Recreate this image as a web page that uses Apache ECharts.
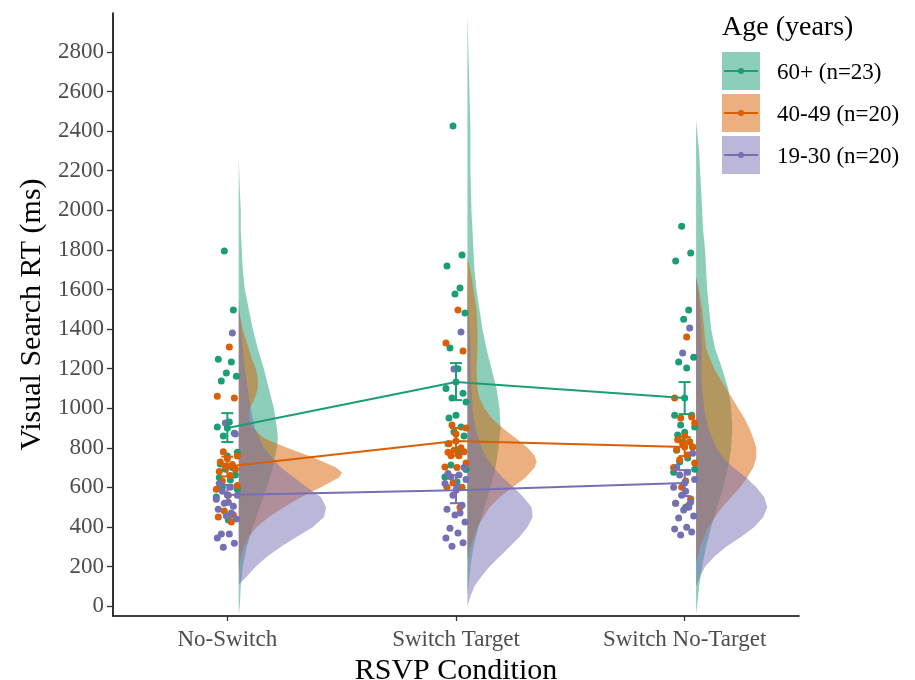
<!DOCTYPE html>
<html>
<head>
<meta charset="utf-8">
<script src="https://cdn.jsdelivr.net/npm/echarts@6/dist/echarts.min.js"></script>
<style>
html, body { margin: 0; padding: 0; background: #fff; }
#container { width: 915px; height: 680px; }
</style>
</head>
<body>
<div id="container"></div>
<script>
const conditions = ['No-Switch', 'Switch Target', 'Switch No-Target'];
const groups = ['60+ (n=23)', '40-49 (n=20)', '19-30 (n=20)'];
const colors = ['#1b9e77', '#d95f02', '#7570b3'];
const yTicks = [0, 200, 400, 600, 800, 1000, 1200, 1400, 1600, 1800, 2000, 2200, 2400, 2600, 2800];

// mean RT and +/- SE per condition
const mean60 = [900, 1132, 1051];
const lo60 = [829, 1041, 970];
const hi60 = [975, 1228, 1132];
const mean40 = [706, 834, 804];
const lo40 = [655, 760, 758];
const hi40 = [755, 900, 854];
const mean19 = [561, 586, 622];
const lo19 = [515, 520, 556];
const hi19 = [612, 662, 687];

// participant RTs (No-Switch, Switch Target, Switch No-Target)
const pts60 = [
  [1794, 1496, 1248, 1233, 1178, 1162, 1137, 930, 905, 874, 859, 778, 758, 718, 700, 692, 662, 650, 637, 601, 591, 551, 435],
  [2426, 1774, 1718, 1607, 1577, 1481, 1304, 1200, 1100, 1076, 1051, 1031, 965, 950, 905, 880, 859, 820, 790, 713, 690, 652, 627],
  [1920, 1784, 1744, 1496, 1450, 1258, 1233, 1203, 965, 965, 915, 905, 879, 864, 830, 829, 804, 788, 748, 728, 692, 677, 500]
];
const pts40 = [
  [1309, 1061, 1051, 780, 758, 745, 728, 715, 708, 692, 680, 660, 632, 610, 590, 560, 480, 460, 450, 425],
  [1496, 1329, 1289, 915, 900, 870, 820, 800, 788, 780, 778, 760, 760, 723, 703, 700, 622, 601, 600, 500],
  [1360, 1051, 955, 950, 925, 860, 840, 829, 820, 804, 790, 763, 740, 723, 700, 632, 601, 541, 520, 510]
];
const pts19 = [
  [1380, 925, 870, 620, 600, 580, 560, 540, 525, 520, 505, 490, 470, 455, 440, 364, 364, 344, 318, 298],
  [1385, 1198, 700, 670, 662, 652, 640, 620, 600, 560, 510, 490, 470, 460, 425, 394, 369, 344, 320, 303],
  [1405, 1279, 773, 700, 677, 662, 640, 600, 580, 560, 526, 520, 500, 485, 455, 445, 399, 389, 374, 359]
];

// half-violin outlines: [RT, relative density]
const dens60 = [
  [[-45, 0], [0, 1], [100, 2], [200, 4], [300, 8], [400, 14], [500, 21], [600, 28], [700, 34], [800, 38], [850, 39], [900, 38], [1000, 35], [1100, 30], [1200, 25], [1300, 19], [1400, 14], [1500, 10], [1600, 6], [1700, 4], [1800, 3], [1900, 2], [2000, 2], [2100, 1], [2270, 0]],
  [[60, 0], [100, 1], [200, 3], [300, 6], [400, 11], [500, 17], [600, 23], [700, 28], [800, 31], [900, 33], [1000, 32], [1100, 29], [1200, 24], [1300, 19], [1400, 15], [1500, 12], [1600, 9], [1700, 7], [1800, 6], [1900, 5], [2000, 4], [2200, 3], [2400, 3], [2600, 2], [2800, 1], [2990, 0]],
  [[-40, 0], [0, 1], [100, 3], [200, 6], [300, 10], [400, 15], [500, 21], [600, 27], [700, 32], [800, 35], [900, 36], [1000, 35], [1100, 32], [1200, 26], [1300, 19], [1400, 15], [1500, 13], [1600, 11], [1700, 10], [1800, 9], [1900, 7], [2000, 6], [2100, 5], [2200, 4], [2300, 3], [2400, 1], [2456, 0]]
];
const dens40 = [
  [[175, 0], [250, 2], [300, 5], [350, 10], [400, 18], [450, 30], [500, 45], [550, 62], [600, 82], [650, 100], [675, 103], [700, 97], [750, 75], [800, 48], [850, 25], [900, 14], [950, 10], [1000, 11], [1050, 16], [1100, 19], [1150, 19], [1200, 17], [1250, 13], [1300, 10], [1350, 7], [1400, 4], [1450, 2], [1500, 0]],
  [[236, 0], [300, 3], [400, 10], [500, 22], [550, 32], [600, 45], [650, 58], [700, 67], [730, 69], [760, 67], [800, 60], [850, 48], [900, 35], [950, 24], [1000, 17], [1050, 12], [1100, 10], [1200, 9], [1300, 10], [1400, 10], [1500, 9], [1600, 6], [1700, 3], [1760, 0]],
  [[217, 0], [300, 4], [400, 12], [500, 26], [550, 35], [600, 44], [650, 51], [700, 57], [750, 60], [800, 60], [850, 57], [900, 53], [950, 48], [1000, 42], [1050, 36], [1100, 30], [1200, 18], [1300, 10], [1400, 8], [1500, 6], [1600, 3], [1660, 0]]
];
const dens19 = [
  [[110, 0], [150, 8], [200, 17], [250, 28], [300, 42], [350, 58], [400, 74], [450, 85], [500, 87], [550, 82], [600, 68], [650, 55], [700, 42], [800, 25], [900, 16], [1000, 12], [1100, 9], [1200, 6], [1300, 4], [1400, 2], [1560, 0]],
  [[0, 0], [50, 3], [100, 7], [150, 14], [200, 22], [250, 32], [300, 42], [350, 52], [400, 60], [450, 65], [500, 64], [550, 56], [600, 46], [650, 35], [700, 26], [750, 19], [800, 14], [900, 8], [1000, 5], [1100, 4], [1200, 3], [1300, 3], [1400, 2], [1500, 1], [1690, 0]],
  [[100, 0], [150, 4], [200, 9], [250, 18], [300, 30], [350, 45], [400, 58], [450, 67], [500, 71], [550, 68], [600, 60], [650, 50], [700, 37], [750, 27], [800, 20], [900, 12], [1000, 8], [1100, 6], [1200, 5], [1300, 6], [1400, 5], [1500, 4], [1600, 2], [1663, 0]]
];

const means = [mean60, mean40, mean19];
const lows = [lo60, lo40, lo19];
const highs = [hi60, hi40, hi19];
const points = [pts60, pts40, pts19];
const violins = [dens60, dens40, dens19];

const FONT = 'Liberation Serif';
const OFF = 0.05;        // violin baseline right of the tick
const DENS = 1 / 228;    // density unit -> x units
const JIT = [-3, 6, -9, 4, -1, 9, -6, 2, -10, 7, -4, 10, 0, -7, 5, -2, 8, -8, 3, -5, 10, -11, 1].map(v => v / 228);

function fade(hex, a) {
  const n = parseInt(hex.slice(1), 16);
  return `rgba(${n >> 16},${(n >> 8) & 255},${n & 255},${a})`;
}

const chart = echarts.init(document.getElementById('container'));
const series = [];

groups.forEach((g, k) => {
  series.push({
    type: 'custom', name: g, z: 1, silent: true,
    data: conditions.map((c, i) => [i, 0]),
    renderItem: (params, api) => {
      const i = params.dataIndex;
      const line = violins[k][i];
      const pts = line.map(([v, w]) => api.coord([i + OFF + w * DENS, v]));
      pts.push(api.coord([i + OFF, line[line.length - 1][0]]));
      pts.push(api.coord([i + OFF, line[0][0]]));
      return { type: 'polygon', shape: { points: pts }, style: { fill: fade(colors[k], 0.5) } };
    }
  });
});

groups.forEach((g, k) => {
  const data = [];
  points[k].forEach((arr, i) => arr.forEach((v, j) => data.push([i + JIT[(j + k * 7) % JIT.length], v])));
  series.push({
    type: 'scatter', name: g, z: 2, data: data,
    symbolSize: 7, itemStyle: { color: colors[k], opacity: 1 }
  });
});

groups.forEach((g, k) => {
  series.push({
    type: 'custom', name: g, z: 3,
    data: conditions.map((c, i) => [i, lows[k][i], highs[k][i]]),
    encode: { x: 0, y: [1, 2] },
    renderItem: (params, api) => {
      const a = api.coord([api.value(0), api.value(1)]);
      const b = api.coord([api.value(0), api.value(2)]);
      const st = { stroke: colors[k], lineWidth: 2 };
      return {
        type: 'group', children: [
          { type: 'line', shape: { x1: a[0], y1: a[1], x2: b[0], y2: b[1] }, style: st },
          { type: 'line', shape: { x1: a[0] - 6, y1: a[1], x2: a[0] + 6, y2: a[1] }, style: st },
          { type: 'line', shape: { x1: b[0] - 6, y1: b[1], x2: b[0] + 6, y2: b[1] }, style: st }
        ]
      };
    }
  });
  series.push({
    type: 'line', name: g, z: 4,
    data: means[k].map((m, i) => [i, m]),
    symbol: 'circle', symbolSize: 7,
    itemStyle: { color: colors[k] },
    lineStyle: { color: colors[k], width: 2 }
  });
});

const legend = [{
  type: 'text', left: 722, top: 14,
  style: { text: 'Age (years)', font: `28px "${FONT}"`, fill: '#000' }
}];
groups.forEach((g, k) => {
  const y = 52 + 42 * k;
  legend.push(
    { type: 'rect', shape: { x: 722, y: y, width: 38, height: 38 }, style: { fill: fade(colors[k], 0.5) } },
    { type: 'line', shape: { x1: 724, y1: y + 19, x2: 758, y2: y + 19 }, style: { stroke: colors[k], lineWidth: 2 } },
    { type: 'circle', shape: { cx: 741, cy: y + 19, r: 3 }, style: { fill: colors[k] } },
    { type: 'text', x: 777, y: y + 21, style: { text: g, font: `23px "${FONT}"`, fill: '#000', verticalAlign: 'middle' } }
  );
});

const option = {
  backgroundColor: '#fff',
  animation: false,
  grid: { left: 113, right: 116, top: 13, bottom: 64, outerBoundsMode: 'none' },
  xAxis: {
    type: 'value', min: -0.5, max: 2.5,
    name: 'RSVP Condition', nameLocation: 'middle', nameGap: 31,
    nameTextStyle: { fontFamily: FONT, fontSize: 30, color: '#000' },
    axisLine: { onZero: false, lineStyle: { color: '#000', width: 1.6 } },
    axisTick: { customValues: [0, 1, 2], length: 5, lineStyle: { color: '#333', width: 1.3 } },
    axisLabel: {
      customValues: [0, 1, 2], margin: 12,
      formatter: v => conditions[Math.round(v)],
      fontFamily: FONT, fontSize: 23, color: '#4d4d4d'
    },
    splitLine: { show: false }
  },
  yAxis: {
    type: 'value', min: -50, max: 2997,
    name: 'Visual Search RT (ms)', nameLocation: 'middle', nameGap: 61,
    nameTextStyle: { fontFamily: FONT, fontSize: 30, color: '#000' },
    axisLine: { show: true, onZero: false, lineStyle: { color: '#000', width: 1.6 } },
    axisTick: { show: true, customValues: yTicks, length: 6, lineStyle: { color: '#333', width: 1.3 } },
    axisLabel: {
      customValues: yTicks, margin: 9, formatter: v => String(v),
      fontFamily: FONT, fontSize: 23, color: '#4d4d4d'
    },
    splitLine: { show: false }
  },
  graphic: legend,
  series: series
};

chart.setOption(option);
</script>
</body>
</html>
